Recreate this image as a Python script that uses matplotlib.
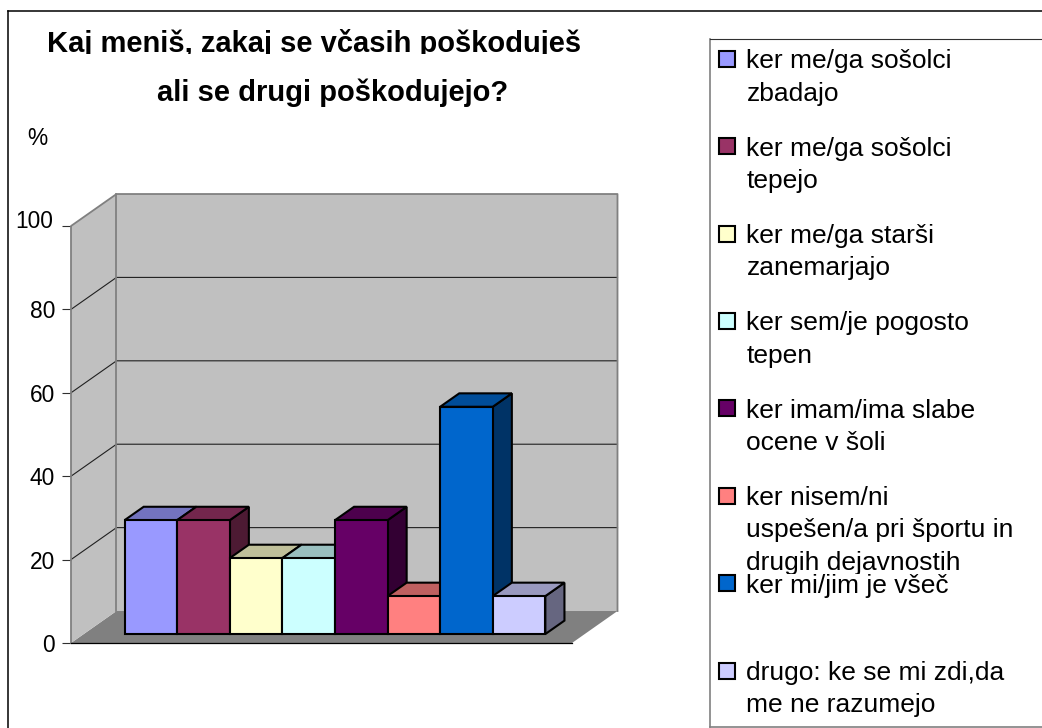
import matplotlib
matplotlib.use('Agg')
import matplotlib.pyplot as plt
from matplotlib.patches import Polygon, Rectangle
from matplotlib.lines import Line2D
from matplotlib.transforms import Affine2D, Bbox

plt.rcParams['font.family'] = ['Liberation Sans', 'DejaVu Sans']

# podatki
title_lines = ["Kaj meniš, zakaj se včasih poškoduješ", "ali se drugi poškodujejo?"]
categories = [
    ["ker me/ga sošolci", "zbadajo"],
    ["ker me/ga sošolci", "tepejo"],
    ["ker me/ga starši", "zanemarjajo"],
    ["ker sem/je pogosto", "tepen"],
    ["ker imam/ima slabe", "ocene v šoli"],
    ["ker nisem/ni", "uspešen/a pri športu in", "drugih dejavnostih"],
    ["ker mi/jim je všeč"],
    ["drugo: ke se mi zdi,da", "me ne razumejo"],
]
values = [27.3, 27.3, 18.2, 18.2, 27.3, 9.1, 54.5, 9.1]
colors = ['#9999FF', '#993366', '#FFFFCC', '#CCFFFF', '#660066', '#FF8080', '#0066CC', '#CCCCFF']
y_ticks = [0, 20, 40, 60, 80, 100]

W, H = 1042, 728
fig = plt.figure(figsize=(W / 100, H / 100), dpi=100, facecolor='white')
# koordinate v pikslih od zgornjega levega kota
px = Affine2D().scale(1, -1).translate(0, H)

ax = fig.add_axes([71 / W, (H - 643) / H, 501 / W, 417 / H])
X_MAX = 9.525
GAP = 0.776
DX, DY = 0.865, 7.67   # premik za celotno globino
D0, D1 = 0.28, 0.70    # globina stolpcev
ax.set_xlim(0, X_MAX)
ax.set_ylim(0, 100)
for s in ax.spines.values():
    s.set_visible(False)
ax.patch.set_visible(False)


def proj(x, v, d=0.0):
    return (x + d * DX, v + d * DY)


def poly(points, face, edge='none', lw=0.0, z=1):
    ax.add_patch(Polygon(points, closed=True, facecolor=face, edgecolor=edge, linewidth=lw,
                         zorder=z, clip_on=False, joinstyle='miter'))


# stene in tla
wall = '#C0C0C0'
grey = '#808080'
poly([proj(0, 0), proj(X_MAX, 0), proj(X_MAX, 0, 1), proj(0, 0, 1)], grey, z=1)
poly([proj(0, 0), proj(0, 100), proj(0, 100, 1), proj(0, 0, 1)], wall, z=1)
poly([proj(0, 0, 1), proj(0, 100, 1), proj(X_MAX, 100, 1), proj(X_MAX, 0, 1)], wall, z=1)

for v in y_ticks[1:-1]:
    pts = [proj(0, v), proj(0, v, 1), proj(X_MAX, v, 1)]
    ax.plot([p[0] for p in pts], [p[1] for p in pts], color='#202020', lw=0.8, zorder=2, clip_on=False)

pts = [proj(0, 0), proj(0, 100), proj(0, 100, 1), proj(X_MAX, 100, 1), proj(X_MAX, 0, 1)]
ax.plot([p[0] for p in pts], [p[1] for p in pts], color=grey, lw=1.3, zorder=2, clip_on=False)
pts = [proj(0, 0, 1), proj(0, 100, 1)]
ax.plot([p[0] for p in pts], [p[1] for p in pts], color=grey, lw=1.3, zorder=2, clip_on=False)
ax.plot([0, X_MAX], [0, 0], color='black', lw=0.9, zorder=2, clip_on=False)

# stolpci
for i, (val, col) in enumerate(zip(values, colors)):
    rgb = matplotlib.colors.to_rgb(col)
    top_col = tuple(c * 0.75 for c in rgb)
    side_col = tuple(c * 0.5 for c in rgb)
    l = GAP + i
    r = l + 1
    z = 3 + i
    poly([proj(r, 0, D0), proj(r, val, D0), proj(r, val, D1), proj(r, 0, D1)], side_col, 'black', 1.5, z)
    poly([proj(l, val, D0), proj(r, val, D0), proj(r, val, D1), proj(l, val, D1)], top_col, 'black', 1.5, z)
    poly([proj(l, 0, D0), proj(r, 0, D0), proj(r, val, D0), proj(l, val, D0)], col, 'black', 1.5, z)

# os y
ax.set_xticks([])
ax.set_yticks(y_ticks)
ax.tick_params(axis='y', length=6.5, width=0.8, pad=5, labelsize=16.4, color='#303030')
lbl = ax.get_yticklabels()[-1]
lbl.set_transform(lbl.get_transform() + Affine2D().translate(-2.3, 6.5))

# okvir
for xs, ys, col, lw in [([7.5, 7.5], [10.5, H], 'black', 1.1),
                        ([7.5, W], [10.5, 10.5], 'black', 1.1),
                        ([710, 710], [38.5, 726.5], grey, 1.2),
                        ([710, W], [38.5, 38.5], '#303030', 0.8),
                        ([710, W], [726.5, 726.5], grey, 1.2)]:
    fig.add_artist(Line2D(xs, ys, transform=px, color=col, linewidth=lw))

# naslov
t = fig.text(314, 52, title_lines[0], transform=px, ha='center', va='baseline',
             fontsize=21, fontweight='bold')
t.set_clip_box(Bbox([[0, H - 54], [W, H]]))
t.set_clip_on(True)
fig.text(333, 101, title_lines[1], transform=px, ha='center', va='baseline',
         fontsize=21, fontweight='bold')
fig.text(27.5, 145, "%", transform=px, ha='left', va='baseline', fontsize=16.4)

# legenda
for i, (lines, col) in enumerate(zip(categories, colors)):
    base = 66.7 + 87.4 * i
    fig.add_artist(Rectangle((718.5, base - 16), 16, 16, transform=px, facecolor=col,
                             edgecolor='black', linewidth=1.5))
    for j, line in enumerate(lines):
        t = fig.text(746.5, base + 1.5 + 32.3 * j, line, transform=px, ha='left', va='baseline', fontsize=19)
        t.set_clip_box(Bbox([[0, H - (base + 87.4 - 17)], [W, H]]))
        t.set_clip_on(True)

fig.savefig('out.png', dpi=100)
